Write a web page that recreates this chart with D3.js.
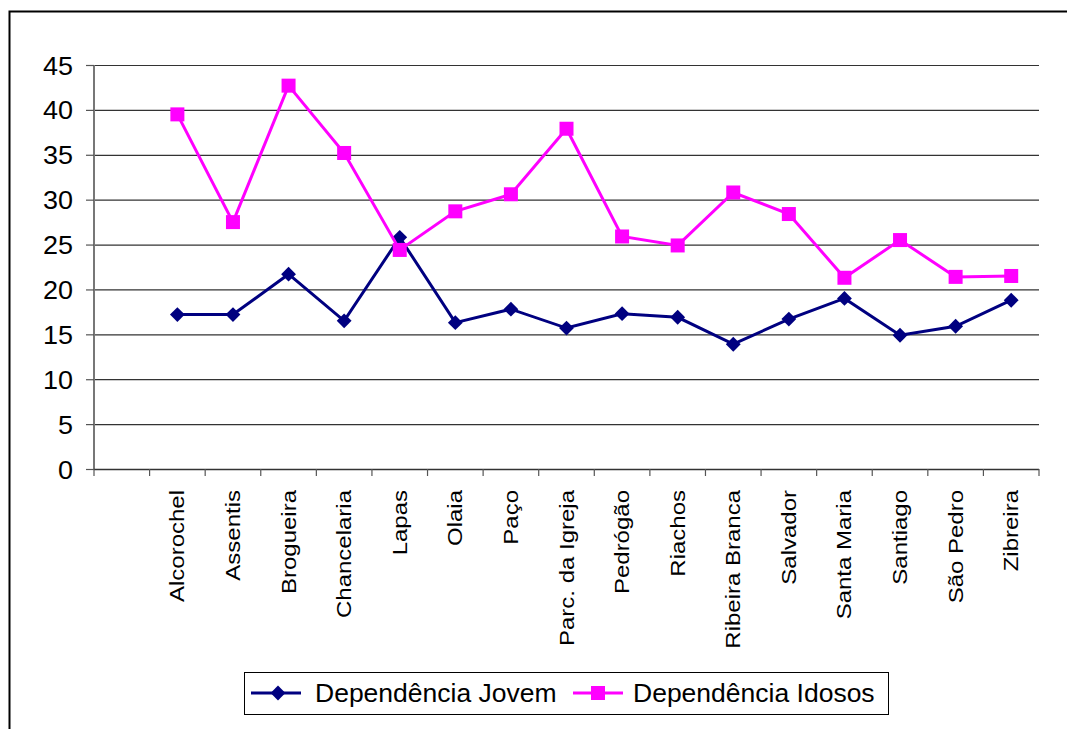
<!DOCTYPE html>
<html><head><meta charset="utf-8">
<script src="https://cdn.jsdelivr.net/npm/d3@7"></script>
<style>body{margin:0;background:#fff;}svg{display:block;font-family:Arial,"Liberation Sans",sans-serif;}</style>
</head><body>
<svg id="c" width="1067" height="729"></svg>
<script>
const categories = ["", "Alcorochel","Assentis","Brogueira","Chancelaria","Lapas","Olaia","Paço","Parc. da Igreja","Pedrógão","Riachos","Ribeira Branca","Salvador","Santa Maria","Santiago","São Pedro","Zibreira"];
const jovem = [null,17.2,17.2,21.7,16.5,25.8,16.3,17.8,15.7,17.3,16.9,13.9,16.7,19.0,14.9,15.9,18.8];
const idosos = [null,39.5,27.5,42.7,35.2,24.4,28.7,30.6,37.9,25.9,24.9,30.8,28.4,21.3,25.5,21.4,21.5];
const yTicks = [0,5,10,15,20,25,30,35,40,45];
const seriesNames = ["Dependência Jovem","Dependência Idosos"];
const colors = ["#000080","#FF00FF"];

const svg = d3.select("#c");
// outer frame
svg.append("path").attr("d","M9.5,729 L9.5,11.5 L1067,11.5").attr("fill","none").attr("stroke","#000").attr("stroke-width",2);

const L=94, R=1039, T=65, B=469;
const x = d3.scaleBand().domain(d3.range(categories.length)).range([L,R]);
const y = d3.scaleLinear().domain([0,45]).range([B,T]);

// gridlines
svg.append("g").selectAll("line").data(yTicks).join("line")
  .attr("x1",L).attr("x2",R).attr("y1",d=>y(d)+0.5).attr("y2",d=>y(d)+0.5)
  .attr("stroke","#333").attr("stroke-width",1.2);

// y axis
const ya = svg.append("g").attr("transform",`translate(${L},0)`)
  .call(d3.axisLeft(y).tickValues(yTicks).tickSize(8).tickPadding(11.5));
ya.select(".domain").attr("stroke","#777").attr("stroke-width",2).attr("d",`M0,${T}V${B}`);
ya.selectAll(".tick line").attr("stroke","#555").attr("stroke-width",1.2);
ya.selectAll("text").attr("font-size",25).attr("fill","#000").attr("font-family","Arial, 'Liberation Sans', sans-serif")
  .attr("dy","0.36em").attr("transform","scale(1.08,1)");

// x axis
const xa = svg.append("g").attr("transform",`translate(0,${B})`);
xa.append("line").attr("x1",L).attr("x2",R).attr("y1",0.5).attr("y2",0.5).attr("stroke","#333").attr("stroke-width",1.5);
const bounds = d3.range(categories.length+1).map(i=> i<categories.length ? x(i) : R);
xa.selectAll("line.t").data(bounds).join("line").attr("class","t")
  .attr("x1",d=>d).attr("x2",d=>d).attr("y1",0).attr("y2",7).attr("stroke","#555").attr("stroke-width",1.2);
xa.selectAll("text").data(categories).join("text")
  .attr("transform",(d,i)=>`translate(${x(i)+x.bandwidth()/2+7},21) rotate(-90) scale(1.2,1)`)
  .attr("text-anchor","end").attr("font-size",20).attr("fill","#000").text(d=>d);

const line = d3.line().defined(d=>d.v!=null).x(d=>x(d.i)+x.bandwidth()/2).y(d=>y(d.v));
const series = [jovem, idosos];
series.forEach((s,k)=>{
  const pts = s.map((v,i)=>({v,i}));
  svg.append("path").datum(pts).attr("d",line).attr("fill","none").attr("stroke",colors[k]).attr("stroke-width",3);
  const g = svg.append("g");
  const valid = pts.filter(d=>d.v!=null);
  if(k===0){
    g.selectAll("path").data(valid).join("path")
      .attr("d",d3.symbol().type(d3.symbolSquare).size(110))
      .attr("transform",d=>`translate(${x(d.i)+x.bandwidth()/2},${y(d.v)}) rotate(45)`)
      .attr("fill",colors[k]);
  } else {
    g.selectAll("rect").data(valid).join("rect")
      .attr("x",d=>x(d.i)+x.bandwidth()/2-7).attr("y",d=>y(d.v)-7)
      .attr("width",14).attr("height",14).attr("fill",colors[k]);
  }
});

// legend
const lg = svg.append("g");
lg.append("rect").attr("x",244.5).attr("y",672.5).attr("width",644).attr("height",42).attr("fill","#fff").attr("stroke","#000").attr("stroke-width",1);
const items = [{x:251, tx:315},{x:573, tx:633}];
items.forEach((it,k)=>{
  lg.append("line").attr("x1",it.x).attr("x2",it.x+50).attr("y1",693).attr("y2",693).attr("stroke",colors[k]).attr("stroke-width",3);
  if(k===0){
    lg.append("path").attr("d",d3.symbol().type(d3.symbolSquare).size(110)).attr("transform",`translate(${it.x+27},693) rotate(45)`).attr("fill",colors[k]);
  } else {
    lg.append("rect").attr("x",it.x+25-7).attr("y",686).attr("width",14).attr("height",14).attr("fill",colors[k]);
  }
  lg.append("text").attr("x",it.tx).attr("y",702).attr("font-size",26.5).attr("fill","#000").text(seriesNames[k]);
});
</script>
</body></html>
